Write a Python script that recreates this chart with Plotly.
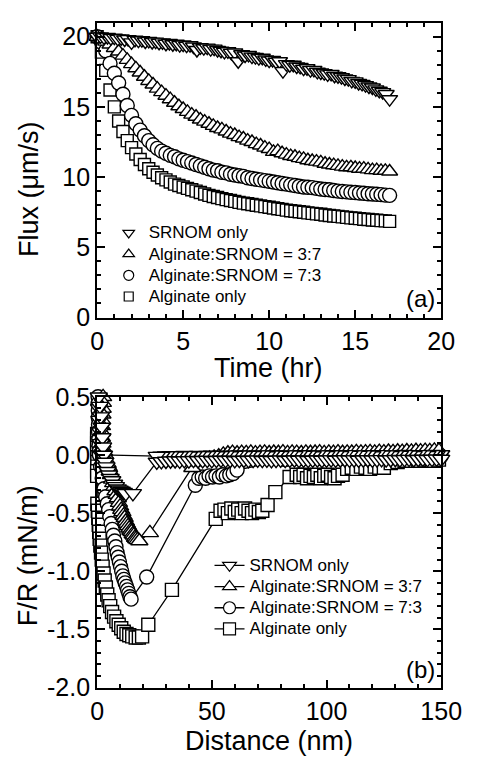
import plotly.graph_objects as go

# ---------------- (a) permeate flux during filtration ----------------
time_srnom = [
    0.0, 0.2, 0.4, 0.6, 0.8, 1.0, 1.2, 1.4, 1.6, 1.8,
    2.0, 2.2, 2.4, 2.6, 2.8, 3.0, 3.2, 3.4, 3.6, 3.8,
    4.0, 4.2, 4.4, 4.6, 4.8, 5.0, 5.2, 5.4, 5.6, 5.8,
    6.0, 6.2, 6.4, 6.6, 6.8, 7.0, 7.2, 7.4, 7.6, 7.8,
    8.0, 8.2, 8.4, 8.6, 8.8, 9.0, 9.2, 9.4, 9.6, 9.8,
    10.0, 10.2, 10.4, 10.6, 10.8, 11.0, 11.2, 11.4, 11.6, 11.8,
    12.0, 12.2, 12.4, 12.6, 12.8, 13.0, 13.2, 13.4, 13.6, 13.8,
    14.0, 14.2, 14.4, 14.6, 14.8, 15.0, 15.2, 15.4, 15.6, 15.8,
    16.0, 16.2, 16.4, 16.6, 16.8, 17.0,
]
flux_srnom = [
    20.00, 20.02, 19.95, 19.98, 19.90, 19.93, 19.85, 19.88, 19.80, 19.83,
    19.60, 19.78, 19.72, 19.75, 19.66, 19.70, 19.62, 19.65, 19.57, 19.60,
    19.50, 19.55, 19.46, 19.50, 19.40, 19.44, 19.36, 19.40, 19.30, 19.05,
    19.25, 19.18, 19.22, 19.12, 19.15, 19.05, 19.00, 18.92, 18.96, 18.85,
    18.88, 18.25, 18.75, 18.66, 18.70, 18.58, 18.55, 18.47, 18.50, 18.38,
    18.30, 18.34, 18.22, 18.25, 17.55, 18.05, 17.98, 18.00, 17.88, 17.85,
    17.72, 17.75, 17.62, 17.64, 17.50, 17.45, 17.40, 17.32, 17.35, 17.22,
    17.18, 17.12, 17.02, 16.98, 16.85, 16.82, 16.70, 16.64, 16.55, 16.45,
    16.38, 16.25, 16.15, 16.05, 15.92, 15.55,
]

time_mix = [
    0.0, 0.25, 0.5, 0.75, 1.0, 1.25, 1.5, 1.75,
    2.0, 2.25, 2.5, 2.75, 3.0, 3.25, 3.5, 3.75,
    4.0, 4.25, 4.5, 4.75, 5.0, 5.25, 5.5, 5.75,
    6.0, 6.25, 6.5, 6.75, 7.0, 7.25, 7.5, 7.75,
    8.0, 8.25, 8.5, 8.75, 9.0, 9.25, 9.5, 9.75,
    10.0, 10.25, 10.5, 10.75, 11.0, 11.25, 11.5, 11.75,
    12.0, 12.25, 12.5, 12.75, 13.0, 13.25, 13.5, 13.75,
    14.0, 14.25, 14.5, 14.75, 15.0, 15.25, 15.5, 15.75,
    16.0, 16.25, 16.5, 16.75, 17.0,
]
flux_37 = [
    20.0, 19.85, 19.65, 19.45, 19.2, 18.95, 18.65, 18.35,
    18.05, 17.75, 17.45, 17.15, 16.85, 16.6, 16.3, 16.05,
    15.8, 15.55, 15.3, 15.05, 14.85, 14.65, 14.45, 14.3,
    14.1, 13.95, 13.8, 13.65, 13.5, 13.4, 13.25, 13.1,
    13.0, 12.85, 12.75, 12.6, 12.5, 12.35, 12.25, 12.1,
    12.0, 11.8, 11.85, 11.7, 11.6, 11.5, 11.45, 11.35,
    11.3, 11.2, 11.15, 11.1, 11.05, 10.95, 10.9, 10.85,
    10.8, 10.75, 10.7, 10.7, 10.65, 10.6, 10.6, 10.55,
    10.5, 10.5, 10.45, 10.45, 10.4,
]
flux_73 = [
    20.0, 19.6, 19.0, 18.1, 17.4, 16.7, 15.9, 15.1,
    14.4, 13.8, 13.35, 12.95, 12.6, 12.3, 12.05, 11.85,
    11.7, 11.55, 11.45, 11.3, 11.2, 11.1, 11.0, 10.9,
    10.8, 10.7, 10.6, 10.5, 10.45, 10.35, 10.3, 10.2,
    10.15, 10.1, 10.05, 9.95, 9.9, 9.85, 9.8, 9.75,
    9.7, 9.65, 9.6, 9.55, 9.5, 9.45, 9.4, 9.35,
    9.3, 9.28, 9.25, 9.2, 9.15, 9.12, 9.1, 9.05,
    9.0, 8.98, 8.95, 8.92, 8.9, 8.87, 8.85, 8.82,
    8.8, 8.78, 8.75, 8.72, 8.7,
]
flux_alg = [
    20.0, 18.9, 17.6, 16.2, 15.0, 14.0, 13.25, 12.6,
    12.1, 11.65, 11.25, 10.9, 10.6, 10.35, 10.15, 9.95,
    9.8, 9.65, 9.5, 9.4, 9.3, 9.2, 9.1, 9.0,
    8.9, 8.8, 8.7, 8.62, 8.55, 8.47, 8.4, 8.33,
    8.27, 8.2, 8.15, 8.1, 8.05, 8.0, 7.95, 7.9,
    7.85, 7.8, 7.75, 7.7, 7.65, 7.6, 7.57, 7.53,
    7.5, 7.45, 7.42, 7.38, 7.35, 7.3, 7.27, 7.23,
    7.2, 7.17, 7.13, 7.1, 7.07, 7.04, 7.0, 6.98,
    6.95, 6.93, 6.9, 6.88, 6.85,
]

# ---------------- (b) AFM force-distance curves ----------------
# SRNOM only: approach (150 -> 26 nm), contact, retraction, then flat tail
srnom_in_d = [
    150, 148, 146, 144, 142, 140, 138, 136, 134, 132,
    130, 128, 126, 124, 122, 120, 118, 116, 114, 112,
    110, 108, 106, 104, 102, 100, 98, 96, 94, 92,
    90, 88, 86, 84, 82, 80, 78, 76, 74, 72,
    70, 68, 66, 64, 62, 60, 58, 56, 54, 52,
    50, 48, 46, 44, 42, 40, 38, 36, 34, 32,
    30, 28, 26,
]
srnom_in_f = [
    0.004, 0.000, 0.006, -0.002, 0.003, 0.005, -0.003, 0.002, 0.006, 0.000,
    0.004, -0.002, 0.003, 0.001, 0.005, -0.004, 0.002, 0.004, -0.001, 0.003,
    0.000, 0.005, -0.003, 0.002, 0.004, -0.002, 0.001, 0.003, -0.004, 0.002,
    0.000, 0.004, -0.003, 0.001, 0.003, -0.002, 0.000, 0.002, -0.004, 0.001,
    0.003, -0.002, 0.000, -0.003, 0.002, -0.001, -0.004, 0.001, -0.002, -0.005,
    0.000, -0.003, -0.006, -0.002, -0.004, -0.007, -0.003, -0.005, -0.008, -0.004,
    -0.006, -0.009, -0.010,
]
srnom_tip_d = [2.0, 1.6, 1.3, 1.0, 0.8, 0.7, 1.2, 1.6, 2.0, 2.3, 2.6, 3.0, 3.5,
               4.0, 4.6, 5.2, 5.9, 6.6, 7.4, 8.2, 9.0, 9.8, 10.7, 11.6, 12.5, 15.6]
srnom_tip_f = [0.00, 0.10, 0.20, 0.30, 0.40, 0.50, 0.42, 0.33, 0.24, 0.15, 0.07, 0.00, -0.06,
               -0.10, -0.14, -0.17, -0.20, -0.22, -0.25, -0.27, -0.29, -0.30, -0.31, -0.32, -0.33, -0.33]
srnom_out_d = [
    26, 28, 30, 32, 34, 36, 38, 40, 42, 44,
    46, 48, 50, 52, 54, 56, 58, 60, 62, 64,
    66, 68, 70, 72, 74, 76, 78, 80, 82, 84,
    86, 88, 90, 92, 94, 96, 98, 100, 102, 104,
    106, 108, 110, 112, 114, 116, 118, 120, 122, 124,
    126, 128, 130, 132, 134, 136, 138, 140, 142, 144,
    146, 148, 150,
]
srnom_out_f = [
    -0.060, -0.056, -0.052, -0.050, -0.048, -0.051, -0.047, -0.049, -0.045, -0.048,
    -0.046, -0.044, -0.047, -0.045, -0.043, -0.046, -0.044, -0.047, -0.045, -0.043,
    -0.046, -0.044, -0.042, -0.045, -0.043, -0.046, -0.044, -0.042, -0.045, -0.043,
    -0.041, -0.044, -0.042, -0.045, -0.043, -0.041, -0.044, -0.042, -0.040, -0.043,
    -0.041, -0.039, -0.042, -0.040, -0.043, -0.041, -0.039, -0.042, -0.040, -0.038,
    -0.041, -0.039, -0.037, -0.040, -0.038, -0.036, -0.039, -0.037, -0.035, -0.038,
    -0.036, -0.034, -0.036,
]

# Alginate:SRNOM = 3:7
mix37_d = [2.6, 2.5, 2.4, 2.3, 2.2, 2.1, 2.0, 2.1, 2.3, 2.6, 3.0,
           3.5, 4.0, 4.5, 5.0, 5.5, 6.0, 6.5, 7.0, 7.5, 8.0, 8.5, 9.0, 9.5, 10.0,
           10.5, 11.0, 11.5, 12.0, 12.5, 13.0, 13.5, 14.0, 14.5, 15.0, 15.5, 16.0, 16.5, 17.0,
           17.6, 18.4, 23.0, 41.5,
           43, 45, 47, 49, 51, 53, 55, 57, 59, 61,
           63, 65, 67, 69, 71, 73, 75, 77, 79, 81,
           83, 85, 87, 89, 91, 93, 95, 97, 99, 101,
           103, 105, 107, 109, 111, 113, 115, 117, 119, 121,
           123, 125, 127, 129, 131, 133, 135, 137, 139, 141,
           143, 145, 147, 149, 151]
mix37_f = [0.50, 0.45, 0.40, 0.35, 0.30, 0.25, 0.20, 0.15, 0.10, 0.06, 0.03,
           0.00, -0.04, -0.07, -0.10, -0.14, -0.17, -0.21, -0.24, -0.27, -0.31, -0.34, -0.37, -0.41, -0.44,
           -0.47, -0.49, -0.52, -0.54, -0.57, -0.59, -0.61, -0.63, -0.65, -0.66, -0.68, -0.69, -0.71, -0.72,
           -0.73, -0.74, -0.67, -0.11,
           -0.060, -0.050, -0.040, -0.030, -0.020, -0.010, 0.005, 0.015, 0.020, 0.015,
           0.020, 0.018, 0.022, 0.016, 0.020, 0.023, 0.017, 0.021, 0.019, 0.024,
           0.018, 0.022, 0.020, 0.017, 0.023, 0.019, 0.021, 0.024, 0.018, 0.022,
           0.020, 0.025, 0.019, 0.023, 0.021, 0.026, 0.022, 0.024, 0.027, 0.023,
           0.028, 0.025, 0.030, 0.027, 0.032, 0.029, 0.034, 0.031, 0.036, 0.033,
           0.038, 0.035, 0.040, 0.037, 0.042]

# Alginate:SRNOM = 7:3
mix73_d = [0.4, 0.4, 0.5, 0.5, 0.6, 0.6, 0.7, 0.8, 0.9, 1.0,
           1.5, 2.2, 3.0, 3.7, 4.4, 5.0, 5.5, 6.1, 6.6, 7.1, 7.7, 8.2, 8.7, 9.2, 9.7,
           10.2, 10.7, 11.2, 11.7, 12.2, 12.8, 13.3, 13.8, 14.3, 14.8,
           21.6, 42.8,
           44.3, 45.8, 47.3, 48.8, 50.3, 51.8, 53.3, 54.8, 56.3, 57.8, 59.3, 61.0,
           82, 86, 90, 94, 98, 102, 106, 110, 114, 118, 122, 126, 130, 134, 138, 142, 146, 150]
mix73_f = [0.50, 0.44, 0.38, 0.32, 0.26, 0.20, 0.14, 0.08, 0.03, 0.00,
           -0.10, -0.20, -0.29, -0.36, -0.42, -0.47, -0.53, -0.59, -0.64, -0.69, -0.74, -0.79, -0.84, -0.88, -0.92,
           -0.96, -1.00, -1.04, -1.07, -1.10, -1.13, -1.16, -1.19, -1.22, -1.24,
           -1.05, -0.26,
           -0.20, -0.19, -0.20, -0.18, -0.19, -0.18, -0.19, -0.17, -0.18, -0.17, -0.16, -0.13,
           -0.04, -0.03, -0.03, -0.02, -0.03, -0.02, -0.03, -0.02, -0.02, -0.03, -0.02, -0.02,
           -0.01, -0.02, -0.01, -0.01, -0.01, -0.01]

# Alginate only
alg_d = [-0.3, -0.3, -0.2, -0.2, -0.2, -0.1, -0.1, -0.1, 0.0, 0.0,
         0.0, 0.0, 0.0, 0.1, 0.1, 0.1, 0.0, 0.0, -0.1, -0.2, -0.2,
         -0.1, 0.1, 0.3, 0.5, 0.7, 0.9, 1.1, 1.4, 1.7, 2.0,
         2.4, 2.8, 3.3, 3.8, 4.4, 5.0, 5.7, 6.5, 7.4, 8.4,
         9.4, 10.5, 11.6, 12.8, 14.0, 15.3, 16.8, 18.2, 19.6, 22.3,
         32.6, 51.7,
         53.8, 55.5, 57.0, 58.5, 60.0, 61.5, 63.0, 64.5, 66.0, 67.5, 69.0, 70.5, 72.0,
         74.3, 77.7, 83.9,
         87.0, 88.5, 90.0, 91.5, 93.0, 94.5, 96.0, 97.5, 99.0, 100.5, 102.0, 103.5, 105.0, 107.0,
         109, 111, 113, 115, 117, 119, 121, 123, 125,
         128, 131, 134, 137, 140, 143, 146, 149]
alg_f = [0.50, 0.46, 0.42, 0.38, 0.34, 0.30, 0.26, 0.22, 0.18, 0.14,
         0.10, 0.06, 0.02, -0.02, -0.06, -0.10, -0.14, -0.18, -0.22, -0.26, -0.30,
         -0.36, -0.42, -0.48, -0.54, -0.60, -0.66, -0.72, -0.78, -0.84, -0.90,
         -0.96, -1.02, -1.08, -1.14, -1.20, -1.25, -1.30, -1.35, -1.39, -1.43,
         -1.46, -1.49, -1.52, -1.54, -1.55, -1.56, -1.57, -1.57, -1.56, -1.46,
         -1.16, -0.55,
         -0.48, -0.47, -0.50, -0.46, -0.49, -0.47, -0.50, -0.46, -0.48, -0.50, -0.47, -0.49, -0.48,
         -0.43, -0.32, -0.19,
         -0.17, -0.19, -0.17, -0.20, -0.18, -0.19, -0.17, -0.20, -0.18, -0.17, -0.19, -0.20, -0.18, -0.17,
         -0.12, -0.11, -0.12, -0.10, -0.11, -0.12, -0.10, -0.11, -0.11,
         -0.07, -0.06, -0.05, -0.05, -0.05, -0.04, -0.05, -0.04]

names = ["SRNOM only", "Alginate:SRNOM = 3:7", "Alginate:SRNOM = 7:3", "Alginate only"]
symbols = ["triangle-down", "triangle-up", "circle", "square"]

FONT = "Liberation Sans, Arial, sans-serif"
W, H = 482, 768
MLW = 1.4  # marker outline width


def px(x):
    return x / W


def py(y):
    return 1 - y / H


fig = go.Figure()

# panel (a): draw the alginate series first so the SRNOM markers end up on top
top_series = [
    (time_srnom, flux_srnom, 14),
    (time_mix, flux_37, 14),
    (time_mix, flux_73, 14),
    (time_mix, flux_alg, 12),
]
for i in [3, 2, 1, 0]:
    t, f, s = top_series[i]
    fig.add_trace(go.Scatter(
        x=t, y=f, mode="markers", xaxis="x", yaxis="y", showlegend=False,
        cliponaxis=False,
        marker=dict(symbol=symbols[i], size=s, color="white",
                    line=dict(color="black", width=MLW)),
    ))

# panel (b)
srnom_d = srnom_in_d + srnom_tip_d + srnom_out_d
srnom_f = srnom_in_f + srnom_tip_f + srnom_out_f
bottom_series = [
    (srnom_d, srnom_f, 15),
    (mix37_d, mix37_f, 15),
    (mix73_d, mix73_f, 14),
    (alg_d, alg_f, 13),
]
for i in [3, 2, 1, 0]:
    d, f, s = bottom_series[i]
    fig.add_trace(go.Scatter(
        x=d, y=f, mode="lines+markers", xaxis="x2", yaxis="y2", showlegend=False,
        cliponaxis=False,
        line=dict(color="black", width=1.3),
        marker=dict(symbol=symbols[i], size=s, color="white",
                    line=dict(color="black", width=MLW)),
    ))


def legend_label(text):
    # rows are spaced by the legend's base font; the label itself is set larger
    return '<span style="font-size:17px">' + text + "</span>"


# legend keys (no data, only entries)
leg_sizes = [10, 10, 10, 9]
for i in range(4):
    fig.add_trace(go.Scatter(
        x=[None], y=[None], mode="markers", xaxis="x", yaxis="y",
        name=legend_label(names[i]), legend="legend",
        marker=dict(symbol=symbols[i], size=leg_sizes[i], color="white",
                    line=dict(color="black", width=1.2)),
    ))
for i in range(4):
    fig.add_trace(go.Scatter(
        x=[None], y=[None], mode="lines+markers", xaxis="x2", yaxis="y2",
        name=legend_label(names[i]), legend="legend2",
        line=dict(color="black", width=1.3),
        marker=dict(symbol=symbols[i], size=12, color="white",
                    line=dict(color="black", width=1.2)),
    ))


def axis(rng, dtick, minor_dtick, domain, anchor, **extra):
    a = dict(
        range=rng, domain=domain, anchor=anchor, dtick=dtick, tick0=0,
        showline=True, linewidth=2, linecolor="black", mirror="allticks",
        ticks="inside", ticklen=8, tickwidth=1.5, tickcolor="black",
        minor=dict(dtick=minor_dtick, tick0=0, ticks="inside", ticklen=4,
                   tickwidth=1.5, tickcolor="black"),
        showgrid=False, zeroline=False,
        tickfont=dict(family=FONT, size=25, color="black"),
    )
    a.update(extra)
    return a


x_dom = [px(95.7), px(461)]
top_dom = [py(315), py(9)]
bot_dom = [py(699), py(397.3)]

fr_ticks = [-2.0, -1.5, -1.0, -0.5, 0.0, 0.5]
fr_labels = ["-2.0", "-1.5", "-1.0", "-0.5", "0.0", "0.5"]

legend_style = dict(xanchor="left", yanchor="top", bgcolor="rgba(0,0,0,0)",
                    borderwidth=0, tracegroupgap=0,
                    font=dict(family=FONT, size=14, color="black"))

fig.update_layout(
    width=W, height=H,
    margin=dict(l=0, r=0, t=0, b=0),
    paper_bgcolor="white", plot_bgcolor="white",
    font=dict(family=FONT, color="black"),
    xaxis=axis([0, 20], 5, 1, x_dom, "y"),
    yaxis=axis([0, 21], 5, 1, top_dom, "x"),
    xaxis2=axis([0, 150], 50, 10, x_dom, "y2"),
    yaxis2=axis([-2, 0.5], 0.5, 0.1, bot_dom, "x2",
                tickmode="array", tickvals=fr_ticks, ticktext=fr_labels),
    legend=dict(x=px(108), y=py(211), **legend_style),
    legend2=dict(x=px(215), y=py(556), **legend_style),
    annotations=[
        dict(text="Time (hr)", x=px(278), y=py(367), xref="paper", yref="paper",
             showarrow=False, xanchor="center", yanchor="middle",
             font=dict(family=FONT, size=27, color="black")),
        dict(text="Flux (\u03bcm/s)", x=px(24), y=py(182), xref="paper", yref="paper",
             showarrow=False, xanchor="center", yanchor="middle", textangle=-90,
             font=dict(family=FONT, size=27, color="black")),
        dict(text="(a)", x=px(439), y=py(295), xref="paper", yref="paper",
             showarrow=False, xanchor="center", yanchor="middle",
             font=dict(family=FONT, size=24, color="black")),
        dict(text="Distance (nm)", x=px(278), y=py(754), xref="paper", yref="paper",
             showarrow=False, xanchor="center", yanchor="middle",
             font=dict(family=FONT, size=27, color="black")),
        dict(text="F/R (mN/m)", x=px(22), y=py(562), xref="paper", yref="paper",
             showarrow=False, xanchor="center", yanchor="middle", textangle=-90,
             font=dict(family=FONT, size=27, color="black")),
        dict(text="(b)", x=px(439), y=py(680), xref="paper", yref="paper",
             showarrow=False, xanchor="center", yanchor="middle",
             font=dict(family=FONT, size=24, color="black")),
    ],
)

fig.write_html("out.html")
